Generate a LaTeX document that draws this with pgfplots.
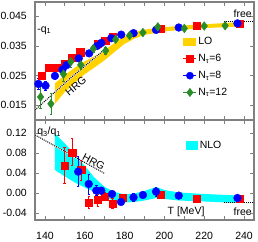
\documentclass[border=0pt]{standalone}
\usepackage{fontspec}
\setmainfont{Liberation Sans}
\usepackage{pgfplots}
\pgfplotsset{compat=1.18}
\definecolor{axgray}{RGB}{128,128,128}
\definecolor{lo}{RGB}{255,210,0}
\definecolor{nlo}{RGB}{0,255,255}
\definecolor{mred}{RGB}{255,0,0}
\definecolor{mblue}{RGB}{0,0,255}
\definecolor{mgreen}{RGB}{40,140,40}

\pgfplotstableread{
T q e
138.2 0.0250 0.0008
142.0 0.0276 0.0007
145.8 0.0278 0.0007
149.8 0.0289 0.0007
153.7 0.0310 0.0007
157.7 0.0329 0.0007
166.5 0.0358 0.0006
170.3 0.0368 0.0006
174.1 0.0382 0.0006
198.3 0.0409 0.0005
216.2 0.0418 0.0005
237.8 0.0426 0.0005
}\topsix
\pgfplotstableread{
T q e
136.7 0.0222 0.0020
140.3 0.0216 0.0015
145.0 0.0249 0.0012
148.8 0.0270 0.0010
150.8 0.0285 0.0008
157.0 0.0308 0.0008
162.2 0.0325 0.0006
166.2 0.0350 0.0005
168.3 0.0360 0.0005
173.3 0.0376 0.0005
178.3 0.0388 0.0005
184.5 0.0393 0.0005
195.8 0.0404 0.0005
207.2 0.0412 0.0004
236.7 0.0426 0.0004
}\topeight
\pgfplotstableread{
T q e
137.8 0.0178 0.0037
143.0 0.0155 0.0034
149.3 0.0255 0.0025
153.0 0.0297 0.0020
158.0 0.0286 0.0015
164.3 0.0341 0.0012
170.5 0.0334 0.0012
175.5 0.0372 0.0008
182.5 0.0385 0.0006
189.2 0.0395 0.0008
196.7 0.0414 0.0008
210.0 0.0409 0.0006
220.0 0.0417 0.0005
230.5 0.0418 0.0006
}\toptwelve
\pgfplotstableread{
T r e
149.8 0.0547 0.036
153.7 0.0813 0.027
158.2 0.0460 0.020
162.0 -0.0190 0.012
166.5 -0.0140 0.012
170.0 -0.0073 0.008
174.0 -0.0207 0.010
179.2 -0.0087 0.005
198.3 -0.0040 0.004
216.2 -0.0107 0.003
237.8 -0.0120 0.003
}\botsix
\pgfplotstableread{
T r e
156.7 0.0427 0.030
162.0 0.0180 0.020
165.8 0.0047 0.010
168.3 0.0047 0.006
173.7 -0.0020 0.006
178.2 -0.0180 0.003
184.5 -0.0087 0.008
189.2 -0.0040 0.004
195.8 0.0027 0.009
207.2 -0.0053 0.003
236.7 -0.0100 0.003
}\boteight

\pgfplotsset{
  base/.style={
    scale only axis, width=219pt, xmin=135, xmax=245,
    scaled y ticks=false, scaled x ticks=false,
    axis line style={axgray, line width=1.2pt},
    tick style={axgray, line width=0.8pt},
    major tick length=4pt, tick align=inside,
    xtick pos=both, ytick pos=both,
    xtick={140,150,...,240},
    tick label style={font=\fontsize{10.5}{12}\selectfont},
    yticklabel style={inner sep=0pt, xshift=-8pt},
    xticklabel style={inner sep=0pt, yshift=-12pt},
    font=\fontsize{10.5}{12}\selectfont,
    legend cell align=left,
  },
  errs/.style={/pgfplots/error bars/y dir=both, /pgfplots/error bars/y explicit,
    /pgfplots/error bars/error bar style={line width=0.8pt},
    /pgfplots/error bars/error mark options={rotate=90, mark size=1.2pt, line width=0.8pt}},
}

\begin{document}
\begin{tikzpicture}
% bottom panel
\begin{axis}[base, name=bot, at={(0,0)}, height=100pt,
  ymin=-0.054, ymax=0.146,
  ytick={-0.04,0,0.04,0.08,0.12},
  yticklabels={-0.04,0.00,0.04,0.08,0.12},
  xticklabels={140,,160,,180,,200,,220,,240},
  legend style={at={(rel axis cs:0.69,0.74)}, anchor=west, draw=none, fill=none,
    inner sep=0pt, nodes={inner sep=1.5pt}},
]
\addplot[fill=nlo, draw=none, legend image code/.code={\fill[nlo] (0pt,-4.5pt) rectangle (12pt,4.5pt);}]
 coordinates {(145,0.119)(150,0.099)(155,0.077)(160,0.054)(165,0.030)(170,0.012)(175,0.002)(180,-0.003)(185,-0.001)(190,0.004)(196,0.012)(200,0.006)(207,0.001)(220,-0.002)(237,-0.005)
 (237,-0.020)(220,-0.017)(207,-0.015)(200,-0.012)(196,-0.010)(190,-0.015)(185,-0.018)(180,-0.019)(175,-0.016)(170,-0.008)(165,0.002)(160,0.011)(155,0.021)(150,0.033)(145,0.046)} -- cycle;
\addlegendentry{NLO}
\addplot[forget plot, white, line width=1.6pt] coordinates {(135,0.116)(170,0.039)};
\addplot[forget plot, black, line width=1pt, dash pattern=on 1pt off 1pt] coordinates {(135,0.116)(170,0.039)};
\addplot[forget plot, black, line width=1pt, dash pattern=on 1pt off 1pt] coordinates {(229.8,-0.0186)(245,-0.0186)};
\addplot[forget plot, only marks, mark=square*, mark size=3.6pt, mred, errs] table[x=T,y=r,y error=e] {\botsix};
\addplot[forget plot, only marks, mark=*, mark size=3.9pt, mblue, errs] table[x=T,y=r,y error=e] {\boteight};
\node[anchor=west, inner sep=1pt] at (rel axis cs:0.005,0.88) {q\textsubscript{3}/q\textsubscript{1}};
\node[rotate=-28] at (axis cs:164.5,0.062) {HRG};
\node at (rel axis cs:0.69,0.085) {T [MeV]};
\node[anchor=east, inner sep=1pt] at (rel axis cs:0.995,0.085) {free};
\end{axis}
% top panel
\begin{axis}[base, name=top, at={(0,100pt)}, height=118pt,
  ymin=0.01005, ymax=0.0498,
  ytick={0.015,0.025,0.035,0.045},
  yticklabels={0.015,0.025,0.035,0.045},
  xticklabels={},
  legend style={at={(rel axis cs:0.675,0.715)}, anchor=north west, draw=none, fill=none,
    inner sep=0pt, row sep=4.3pt, nodes={inner sep=1.5pt, text height=7.5pt, text depth=2pt}},
]
\addplot[fill=lo, draw=none, legend image code/.code={\fill[lo] (0pt,-4pt) rectangle (13pt,4pt);}]
 coordinates {(145,0.0224)(150,0.0252)(155,0.0277)(160,0.0298)(165,0.0316)(170,0.0336)(175,0.0360)(180,0.0383)(185,0.0397)(190,0.0405)(200,0.0413)(210,0.0419)(220,0.0423)(230,0.0427)(237,0.0430)
 (237,0.0415)(230,0.0413)(220,0.0410)(210,0.0405)(200,0.0399)(190,0.0387)(185,0.0375)(180,0.0357)(175,0.0330)(170,0.0302)(165,0.0278)(160,0.0255)(155,0.0226)(150,0.0195)(145,0.0155)} -- cycle;
\addlegendentry{LO}
\addplot[forget plot, white, line width=1.6pt] coordinates {(135,0.0134)(152.5,0.0240)(170.3,0.0340)};
\addplot[forget plot, black, line width=1pt, dash pattern=on 1pt off 1pt] coordinates {(135,0.0134)(152.5,0.0240)(170.3,0.0340)};
\addplot[forget plot, black, line width=1pt, dash pattern=on 1pt off 1pt] coordinates {(229.8,0.0432)(245,0.0432)};
\addplot[only marks, mark=square*, mark size=3.6pt, mred,
  legend image code/.code={\draw[mred,line width=0.8pt] (0pt,0pt)--(13pt,0pt); \draw[mred,fill=mred] plot[only marks, mark=square*, mark size=3.4pt] coordinates {(6.5pt,0pt)};}, errs]
  table[x=T,y=q,y error=e] {\topsix};
\addlegendentry{N\textsubscript{τ}=6}
\addplot[only marks, mark=*, mark size=3.9pt, mblue,
  legend image code/.code={\draw[mblue,line width=0.8pt] (0pt,0pt)--(13pt,0pt); \draw[mblue,fill=mblue] plot[only marks, mark=*, mark size=3.6pt] coordinates {(6.5pt,0pt)};}, errs]
  table[x=T,y=q,y error=e] {\topeight};
\addlegendentry{N\textsubscript{τ}=8}
\addplot[only marks, mark=diamond*, mark size=4.4pt, mgreen,
  legend image code/.code={\draw[mgreen,line width=0.8pt] (0pt,0pt)--(13pt,0pt); \draw[mgreen,fill=mgreen] plot[only marks, mark=diamond*, mark size=4.2pt] coordinates {(6.5pt,0pt)};}, errs]
  table[x=T,y=q,y error=e] {\toptwelve};
\addlegendentry{N\textsubscript{τ}=12}
\node[anchor=west, inner sep=1pt] at (rel axis cs:0.005,0.76) {-q\textsubscript{1}};
\node[rotate=40] at (axis cs:155.5,0.0215) {HRG};
\node[anchor=east, inner sep=1pt] at (rel axis cs:0.995,0.9) {free};
\end{axis}
\path ([shift={(-35pt,-22pt)}]bot.south west) rectangle ([shift={(4pt,2pt)}]top.north east);
\end{tikzpicture}
\end{document}
